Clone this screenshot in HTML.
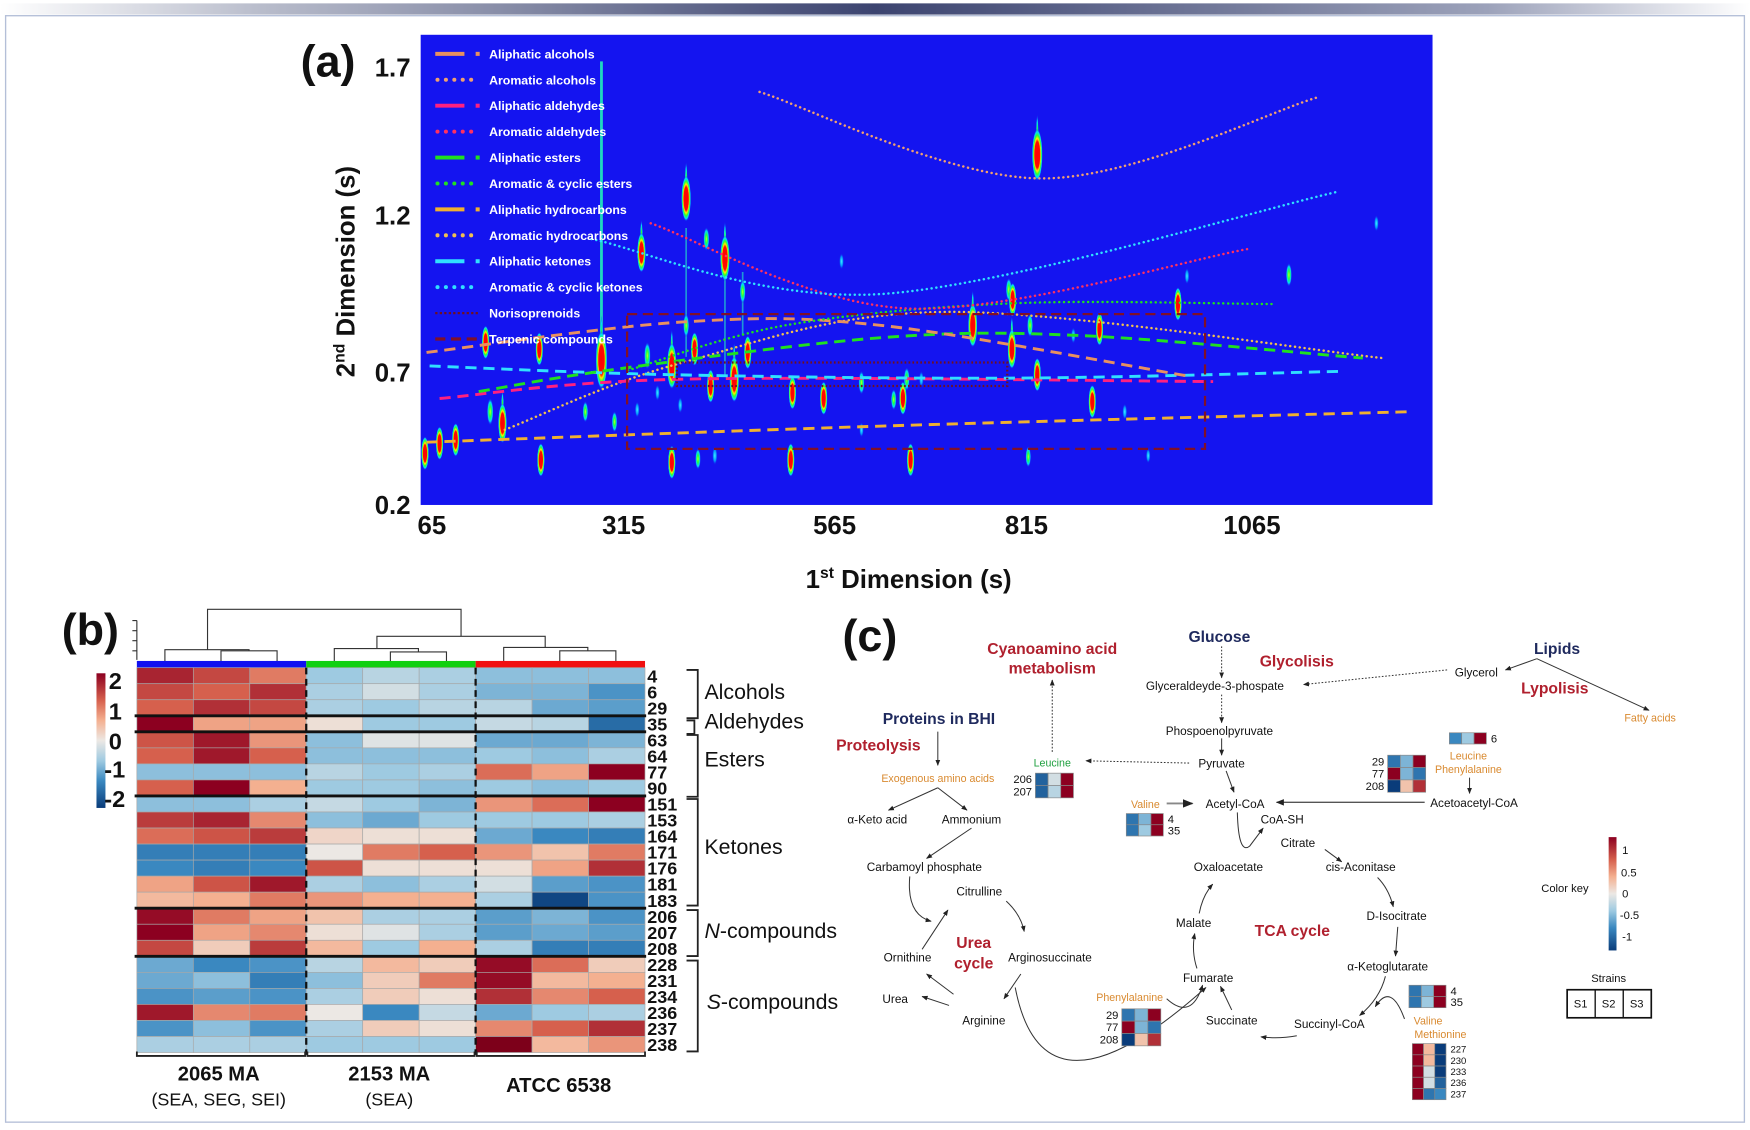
<!DOCTYPE html>
<html><head><meta charset="utf-8">
<style>
html,body{margin:0;padding:0;background:#fff;}
svg{display:block;font-family:"Liberation Sans",sans-serif;}
</style></head>
<body>
<svg id="fig" width="1750" height="1130" viewBox="0 0 1560 1007" preserveAspectRatio="none" xmlns="http://www.w3.org/2000/svg">
<defs>
  <linearGradient id="topband" x1="0" x2="1" y1="0" y2="0">
    <stop offset="0" stop-color="#ffffff"/><stop offset="0.15" stop-color="#b8bccb"/>
    <stop offset="0.5" stop-color="#3c4470"/><stop offset="0.85" stop-color="#9ca2ba"/><stop offset="1" stop-color="#ffffff"/>
  </linearGradient>
  <radialGradient id="pkR"><stop offset="0" stop-color="#ff0000"/><stop offset="0.5" stop-color="#ff0a00"/><stop offset="0.62" stop-color="#ffee00"/><stop offset="0.74" stop-color="#30ff30"/><stop offset="0.88" stop-color="#00e0ff"/><stop offset="1" stop-color="#1414f0" stop-opacity="0"/></radialGradient>
  <radialGradient id="pkG"><stop offset="0" stop-color="#c8ff20"/><stop offset="0.35" stop-color="#20ff40"/><stop offset="0.7" stop-color="#00d8ff"/><stop offset="1" stop-color="#1414f0" stop-opacity="0"/></radialGradient>
  <radialGradient id="pkC"><stop offset="0" stop-color="#40f0ff"/><stop offset="0.6" stop-color="#0090ff"/><stop offset="1" stop-color="#1414f0" stop-opacity="0"/></radialGradient>
  <linearGradient id="cbarB" x1="0" x2="0" y1="0" y2="1">
    <stop offset="0" stop-color="#8c0020"/><stop offset="0.2" stop-color="#d6604d"/><stop offset="0.35" stop-color="#f4b090"/><stop offset="0.5" stop-color="#ece8e4"/><stop offset="0.65" stop-color="#9ecae1"/><stop offset="0.8" stop-color="#3a88c0"/><stop offset="1" stop-color="#0a3c7a"/>
  </linearGradient>
  <clipPath id="plotclip"><rect x="375" y="31" width="902" height="419"/></clipPath>
  <marker id="arr" viewBox="0 0 10 10" refX="9" refY="5" markerWidth="6" markerHeight="6" orient="auto"><path d="M0,1 L10,5 L0,9 z" fill="#222"/></marker>
</defs>

<rect x="0" y="3" width="1560" height="10" fill="url(#topband)"/>
<rect x="5" y="14" width="1550" height="986" fill="none" stroke="#b4bfd8" stroke-width="1.2"/>

<g id="panelA">
  <text x="268" y="68" font-size="40" font-weight="bold" fill="#111">(a)</text>
  <rect x="375" y="31" width="902" height="419" fill="#1414f0"/>
  <g id="peaks" clip-path="url(#plotclip)"></g>
  <g id="curves" clip-path="url(#plotclip)"></g>
  <g id="legendA"></g>
  <g id="xticks"></g>
  <g id="yticks"></g>
  <text x="810" y="524" text-anchor="middle" font-size="23" font-weight="bold" fill="#111">1<tspan font-size="14" dy="-9">st</tspan><tspan dy="9"> Dimension (s)</tspan></text>
  <text transform="translate(316,242) rotate(-90)" text-anchor="middle" font-size="23" font-weight="bold" fill="#111">2<tspan font-size="14" dy="-9">nd</tspan><tspan dy="9"> Dimension (s)</tspan></text>
</g>

<g id="panelB">
  <text x="55" y="575" font-size="40" font-weight="bold" fill="#111">(b)</text>
  <g fill="none" stroke="#333" stroke-width="1">
    <path d="M185,579 V543 H411 V567"/>
    <path d="M147,589 V579 H222 V580"/><path d="M197,589 V580 H247 V589"/>
    <path d="M336,578 V567 H486 V577"/><path d="M298,589 V578 H373 V581"/><path d="M348,589 V581 H398 V589"/>
    <path d="M449,589 V577 H524 V580"/><path d="M499,589 V580 H549 V589"/>
    <path d="M122,553 V588 M118,553 H122 M118,562 H122 M118,571 H122 M118,580 H122"/>
  </g>
  <rect x="122" y="589" width="151" height="6" fill="#1010f0"/>
  <rect x="273" y="589" width="151" height="6" fill="#10d010"/>
  <rect x="424" y="589" width="151" height="6" fill="#f01010"/>
  <g id="hm"></g>
  <rect x="86" y="600" width="8" height="120" fill="url(#cbarB)"/>
  <g font-size="21" font-weight="bold" fill="#111">
    <text x="97" y="614">2</text><text x="97" y="641">1</text><text x="97" y="668">0</text><text x="93" y="693">-1</text><text x="93" y="719">-2</text>
  </g>
  <g fill="none" stroke="#222" stroke-width="1.6">
    <path d="M612,597 H622 V640 H612"/><path d="M612,642 H619 V654 H612"/><path d="M612,655 H622 V710 H612"/>
    <path d="M612,712 H622 V807 H612"/><path d="M612,811 H622 V852 H612"/><path d="M612,856 H622 V937 H612"/>
  </g>
  <g font-size="19" fill="#111">
    <text x="628" y="623">Alcohols</text><text x="628" y="649">Aldehydes</text><text x="628" y="683">Esters</text>
    <text x="628" y="761">Ketones</text><text x="628" y="836"><tspan font-style="italic">N</tspan>-compounds</text><text x="630" y="899"><tspan font-style="italic">S</tspan>-compounds</text>
  </g>
  <g fill="none" stroke="#222" stroke-width="1.6">
    <path d="M122,937 V941 H272 V937"/><path d="M274,937 V941 H423 V937"/><path d="M425,937 V941 H575 V937"/>
  </g>
  <g text-anchor="middle" fill="#111">
    <text x="195" y="963" font-size="18" font-weight="bold">2065 MA</text>
    <text x="195" y="985" font-size="16">(SEA, SEG, SEI)</text>
    <text x="347" y="963" font-size="18" font-weight="bold">2153 MA</text>
    <text x="347" y="985" font-size="16">(SEA)</text>
    <text x="498" y="973" font-size="18" font-weight="bold">ATCC 6538</text>
  </g>
</g>

<g id="panelC">
  <text x="751" y="580" font-size="40" font-weight="bold" fill="#111">(c)</text>
  <g font-weight="bold" font-size="14" text-anchor="middle">
    <text x="938" y="583" fill="#b0202e">Cyanoamino acid</text>
    <text x="938" y="600" fill="#b0202e">metabolism</text>
    <text x="1087" y="572" fill="#1f2a5e">Glucose</text>
    <text x="1156" y="594" fill="#b0202e">Glycolisis</text>
    <text x="1388" y="583" fill="#1f2a5e">Lipids</text>
    <text x="1386" y="618" fill="#b0202e">Lypolisis</text>
    <text x="837" y="645" fill="#1f2a5e">Proteins in BHI</text>
    <text x="783" y="669" fill="#b0202e">Proteolysis</text>
    <text x="1152" y="834" fill="#b0202e">TCA cycle</text>
    <text x="868" y="845" fill="#b0202e">Urea</text>
    <text x="868" y="863" fill="#b0202e">cycle</text>
  </g>
  <g font-size="10.5" fill="#111" text-anchor="middle">
    <text x="1316" y="603">Glycerol</text>
    <text x="1083" y="615">Glyceraldeyde-3-phospate</text>
    <text x="1087" y="655">Phospoenolpyruvate</text>
    <text x="1089" y="684">Pyruvate</text>
    <text x="1101" y="720">Acetyl-CoA</text>
    <text x="1314" y="719">Acetoacetyl-CoA</text>
    <text x="782" y="734">α-Keto acid</text>
    <text x="866" y="734">Ammonium</text>
    <text x="1143" y="734">CoA-SH</text>
    <text x="1157" y="755">Citrate</text>
    <text x="824" y="776">Carbamoyl phosphate</text>
    <text x="1095" y="776">Oxaloacetate</text>
    <text x="1213" y="776">cis-Aconitase</text>
    <text x="873" y="798">Citrulline</text>
    <text x="1064" y="826">Malate</text>
    <text x="1245" y="820">D-Isocitrate</text>
    <text x="809" y="857">Ornithine</text>
    <text x="936" y="857">Arginosuccinate</text>
    <text x="1237" y="865">α-Ketoglutarate</text>
    <text x="1077" y="875">Fumarate</text>
    <text x="798" y="894">Urea</text>
    <text x="877" y="913">Arginine</text>
    <text x="1098" y="913">Succinate</text>
    <text x="1185" y="916">Succinyl-CoA</text>
  </g>
  <g font-size="9.5" text-anchor="middle">
    <text x="1471" y="643" fill="#d98a30">Fatty acids</text>
    <text x="836" y="697" fill="#d98a30">Exogenous amino acids</text>
    <text x="938" y="683" fill="#20a040">Leucine</text>
    <text x="1309" y="677" fill="#d98a30">Leucine</text>
    <text x="1309" y="689" fill="#d98a30">Phenylalanine</text>
    <text x="1021" y="720" fill="#d98a30">Valine</text>
    <text x="1007" y="892" fill="#d98a30">Phenylalanine</text>
    <text x="1273" y="913" fill="#d98a30">Valine</text>
    <text x="1284" y="925" fill="#d98a30">Methionine</text>
  </g>
  <g fill="none" stroke="#333" stroke-width="0.9" marker-end="url(#arr)">
    <path d="M1089,576 V604" stroke-dasharray="1.5 1.5"/>
    <path d="M1290,597 L1162,610" stroke-dasharray="1.5 1.5"/>
    <path d="M1370,587 L1342,597"/>
    <path d="M1370,587 L1470,633"/>
    <path d="M1089,619 V644" stroke-dasharray="1.5 1.5"/>
    <path d="M1089,658 V673"/>
    <path d="M1060,680 L968,678" stroke-dasharray="1.5 1.5"/>
    <path d="M938,670 V606" stroke-dasharray="1.5 1.5"/>
    <path d="M1093,687 L1100,706"/>
    <path d="M1040,716 H1063" stroke="#888" stroke-width="1.6"/>
    <path d="M1270,715 H1138" stroke="#555" stroke-width="1.2"/>
    <path d="M1310,693 V707"/>
    <path d="M836,652 V682"/>
    <path d="M836,702 L792,722"/><path d="M836,702 L862,722"/>
    <path d="M866,738 L826,765"/>
    <path d="M1103,724 Q1104,762 1114,754 L1126,738"/>
    <path d="M1181,757 L1196,768"/>
    <path d="M1228,782 Q1238,792 1242,808"/>
    <path d="M1246,826 L1244,852"/>
    <path d="M1235,870 Q1230,890 1212,905"/>
    <path d="M1252,908 Q1240,875 1226,897"/>
    <path d="M1156,923 Q1140,926 1124,924"/>
    <path d="M1098,900 L1088,879"/>
    <path d="M1067,863 Q1062,848 1065,832"/>
    <path d="M1069,814 Q1072,798 1081,788"/>
    <path d="M1040,890 Q1062,910 1072,878"/>
    <path d="M811,781 Q808,815 830,821"/>
    <path d="M822,846 L845,811"/>
    <path d="M897,803 Q910,815 913,830"/>
    <path d="M910,868 L895,890"/>
    <path d="M846,896 L822,888"/>
    <path d="M850,886 L826,868"/>
    <path d="M905,880 Q930,1010 1075,880"/>
  </g>
  <g id="minis"></g>
  <text x="1395" y="795" font-size="10" text-anchor="middle" fill="#111">Color key</text>
  <rect x="1434" y="746" width="7" height="101" fill="url(#cbarB)"/>
  <g font-size="10" fill="#111">
    <text x="1446" y="761">1</text><text x="1445" y="781">0.5</text><text x="1446" y="800">0</text><text x="1444" y="819">-0.5</text><text x="1446" y="838">-1</text>
  </g>
  <text x="1434" y="875" font-size="10" text-anchor="middle" fill="#111">Strains</text>
  <g>
    <rect x="1397" y="882" width="75" height="25" fill="#fff" stroke="#111" stroke-width="1.5"/>
    <line x1="1422" y1="882" x2="1422" y2="907" stroke="#111" stroke-width="1.2"/>
    <line x1="1447" y1="882" x2="1447" y2="907" stroke="#111" stroke-width="1.2"/>
    <g font-size="10" text-anchor="middle" fill="#111"><text x="1409" y="898">S1</text><text x="1434" y="898">S2</text><text x="1459" y="898">S3</text></g>
  </g>
</g>
</svg>

<script>
// ---------- Panel A data ----------
const xTickLabels=[65,315,565,815,1065];
const yTickLabels=[0.2,0.7,1.2,1.7];
const peakRT1=[827,286,389,336,413,435,456,574,1106,1203,993,983,792,797,745,796,819,896,867,135,205,372,389,399,343,462,418,446,827,659,654,678,515,552,600,642,888,924,355,382,331,265,303,141,157,96,75,56,207,372,403,423,513,664,817,950,600];
const peakRT2=[1.405,0.74,1.257,1.082,1.125,1.064,0.957,1.054,1.011,1.175,1.007,0.918,0.964,0.932,0.850,0.775,0.850,0.839,0.818,0.796,0.775,0.721,0.850,0.775,0.754,0.764,0.649,0.675,0.692,0.675,0.603,0.675,0.624,0.603,0.662,0.598,0.590,0.552,0.624,0.577,0.560,0.552,0.514,0.552,0.509,0.446,0.433,0.395,0.370,0.361,0.374,0.386,0.370,0.370,0.382,0.386,0.484];
const peakResp=[3.5,4,3,2.5,1.2,3,1.2,0.6,1.2,0.6,0.6,2,1.2,2,2.8,2.5,1.2,2,0.6,2,2,3,1.2,2,1.5,2,2,3,2,1.2,2,0.6,2,2,1.2,1,2,0.6,0.6,0.6,0.6,1,1,1.5,2.5,2,2,2,2,2,1,0.8,2,2,1,0.5,0.5];
const streakRT1=[286,389,435,456];
const streakTop=[1.72,1.16,1.12,1.02];
const streakBottom=[0.75,0.75,0.69,0.82];
const legendNames=["Aliphatic alcohols","Aromatic alcohols","Aliphatic aldehydes","Aromatic aldehydes","Aliphatic esters","Aromatic & cyclic esters","Aliphatic hydrocarbons","Aromatic hydrocarbons","Aliphatic ketones","Aromatic & cyclic ketones","Norisoprenoids","Terpenic compounds"];
const curveAliphAlcX=[58,385,626,994], curveAliphAlcY=[0.764,0.861,0.85,0.687];
const curveAromAlcX=[476,830,1137], curveAromAlcY=[1.617,1.325,1.598];
const curveAliphAldX=[75,385,1022], curveAliphAldY=[0.602,0.675,0.666];
const curveAromAldX=[347,660,1060], curveAromAldY=[1.175,0.904,1.093];
const curveAliphEstX=[126,306,626,873,1188], curveAliphEstY=[0.628,0.711,0.811,0.818,0.746];
const curveAromEstX=[320,506,793,1087], curveAromEstY=[0.707,0.85,0.92,0.918];
const curveAliphHcX=[58,650,1240], curveAliphHcY=[0.437,0.50,0.552];
const curveAromHcX=[160,385,713,1210], curveAromHcY=[0.484,0.732,0.893,0.746];
const curveAliphKetX=[62,370,797,1167], curveAliphKetY=[0.721,0.692,0.679,0.704];
const curveAromKetX=[273,626,1160], curveAromKetY=[1.125,0.95,1.28];
const boxNorisoX=[378,790], boxNorisoY=[0.732,0.649];
const boxTerpX=[319,1013], boxTerpY=[0.886,0.412];

const NS="http://www.w3.org/2000/svg";
function mk(tag,attrs,parent){const e=document.createElementNS(NS,tag);for(const k in attrs)e.setAttribute(k,attrs[k]);if(parent)parent.appendChild(e);return e;}
function poly(dom,rng){return v=>{let i=0;while(i<dom.length-2&&v>dom[i+1])i++;return rng[i]+(v-dom[i])*(rng[i+1]-rng[i])/(dom[i+1]-dom[i]);};}
const xScale=poly([65,315,565,815,1065],[385,556,744,915,1116]);
const yScale=poly([0.2,0.7,1.2,1.7],[450,332,192,60]);

const gP=document.getElementById('peaks');
streakRT1.forEach((x,i)=>{
  const l=mk('line',{x1:xScale(x),x2:xScale(x),y1:yScale(streakTop[i]),y2:yScale(streakBottom[i]),stroke:i==0?'#20d8c0':'#20b8d0','stroke-width':i==0?2.5:1.5,'stroke-opacity':i==0?1:0.8},gP);
  
  
});
peakRT1.forEach((x,i)=>{
  const r=peakResp[i];
  const fill=r>=1.8?'url(#pkR)':(r>=0.9?'url(#pkG)':'url(#pkC)');
  const cx=xScale(x),cy=yScale(peakRT2[i]);
  if(r>=2.5){
    const t=mk('ellipse',{cx:cx,cy:cy-6-3*r,rx:1.2,ry:6+4*r,fill:'url(#pkG)'},gP);
    
    
  }
  const e=mk('ellipse',{cx:cx,cy:cy,rx:1.6+0.9*r,ry:4+5.5*r,fill:fill},gP);
  
  
});

function smooth(pts){let d=`M${pts[0][0]},${pts[0][1]}`;for(let i=0;i<pts.length-1;i++){const p0=pts[i-1]||pts[i],p1=pts[i],p2=pts[i+1],p3=pts[i+2]||p2;const c1=[p1[0]+(p2[0]-p0[0])/6,p1[1]+(p2[1]-p0[1])/6];const c2=[p2[0]-(p3[0]-p1[0])/6,p2[1]-(p3[1]-p1[1])/6];d+=` C${c1[0]},${c1[1]} ${c2[0]},${c2[1]} ${p2[0]},${p2[1]}`;}return d;}
const gC=document.getElementById('curves');
const DASH={dash:'10 6',dot:'0.1 4.2'};
function curve(xs,ys,color,kind,name){
  const pts=xs.map((x,i)=>[xScale(x),yScale(ys[i])]);
  const p=mk('path',{d:smooth(pts),fill:'none',stroke:color,'stroke-width':kind=='dash'?2.6:2.2,'stroke-dasharray':DASH[kind],'stroke-linecap':kind=='dot'?'round':'butt'},gC);
  
  
}
curve(curveAliphHcX,curveAliphHcY,'#f0b030','dash','curve-aliphatic-hydrocarbons');
curve(curveAromHcX,curveAromHcY,'#f0c050','dot','curve-aromatic-hydrocarbons');
curve(curveAliphAldX,curveAliphAldY,'#ff2080','dash','curve-aliphatic-aldehydes');
curve(curveAliphKetX,curveAliphKetY,'#30e0ff','dash','curve-aliphatic-ketones');
curve(curveAliphEstX,curveAliphEstY,'#20e020','dash','curve-aliphatic-esters');
curve(curveAliphAlcX,curveAliphAlcY,'#e89060','dash','curve-aliphatic-alcohols');
curve(curveAromEstX,curveAromEstY,'#20e020','dot','curve-aromatic-esters');
curve(curveAromAldX,curveAromAldY,'#ff3060','dot','curve-aromatic-aldehydes');
curve(curveAromKetX,curveAromKetY,'#30e0ff','dot','curve-aromatic-ketones');
curve(curveAromAlcX,curveAromAlcY,'#f0a070','dot','curve-aromatic-alcohols');
function box(xs,ys,color,kind,name){
  const x1=xScale(xs[0]),x2=xScale(xs[1]),y1=yScale(ys[0]),y2=yScale(ys[1]);
  const r=mk('rect',{x:x1,y:y1,width:x2-x1,height:y2-y1,fill:'none',stroke:color,'stroke-width':2,'stroke-dasharray':kind=='dash'?'9 5':'1.5 2'},gC);
  
  
}
box(boxNorisoX,boxNorisoY,'#701020','dot','box-norisoprenoids');
box(boxTerpX,boxTerpY,'#801028','dash','box-terpenic-compounds');

const legendColors=['#e89060','#f0a070','#ff2080','#ff3060','#20e020','#20e020','#f0b030','#f0c050','#30e0ff','#30e0ff','#701020','#801028'];
const legendKinds=['dash','dot','dash','dot','dash','dot','dash','dot','dash','dot','ndot','ndash'];
const gL=document.getElementById('legendA');
legendNames.forEach((n,i)=>{
  const y=48+i*23.1;
  const g=mk('g',{},gL);
  
  
  const k=legendKinds[i],c=legendColors[i];
  if(k=='dash'){mk('line',{x1:388,x2:414,y1:y,y2:y,stroke:c,'stroke-width':3.5},g);mk('rect',{x:424,y:y-1.8,width:3.6,height:3.6,fill:c},g);}
  else if(k=='dot'){for(let j=0;j<5;j++)mk('circle',{cx:390+j*7.5,cy:y,r:1.8,fill:c},g);}
  else if(k=='ndot'){mk('line',{x1:388,x2:426,y1:y,y2:y,stroke:c,'stroke-width':2,'stroke-dasharray':'2 2'},g);}
  else {mk('line',{x1:388,x2:426,y1:y,y2:y,stroke:c,'stroke-width':3,'stroke-dasharray':'9 5'},g);}
  const t=mk('text',{x:436,y:y+4,'font-size':11,'font-weight':'bold',fill:'#fff'},g);t.textContent=n;
});

const gX=document.getElementById('xticks');
xTickLabels.forEach(v=>{const t=mk('text',{x:xScale(v),y:476,'text-anchor':'middle','font-size':23,'font-weight':'bold',fill:'#111'},gX);t.textContent=v;
  
  });
const gY=document.getElementById('yticks');
yTickLabels.forEach(v=>{const t=mk('text',{x:366,y:yScale(v)+8,'text-anchor':'end','font-size':23,'font-weight':'bold',fill:'#111'},gY);t.textContent=v.toFixed(1);
  
  });

// ---------- Panel B heatmap ----------
const hmRows=['4','6','29','35','63','64','77','90','151','153','164','171','176','181','183','206','207','208','228','231','234','236','237','238'];
const hmCols=['2065-1','2065-2','2065-3','2153-1','2153-2','2153-3','ATCC-1','ATCC-2','ATCC-3'];
const hmVals=[
[1.7,1.4,1.0,-0.6,-0.4,-0.5,-0.7,-0.7,-0.7],
[1.4,1.2,1.6,-0.5,-0.2,-0.5,-0.8,-0.8,-1.1],
[1.2,1.6,1.4,-0.5,-0.6,-0.4,-0.4,-0.9,-1.0],
[2.0,0.7,0.7,0.1,-0.6,-0.6,-0.3,-0.4,-1.5],
[1.3,1.8,0.8,-0.7,-0.1,-0.1,-0.9,-0.9,-0.8],
[1.2,1.8,1.2,-0.7,-0.7,-0.7,-0.6,-0.7,-0.5],
[-0.7,-0.7,-0.7,-0.4,-0.6,-0.5,1.1,0.7,2.0],
[1.2,2.0,0.6,-0.6,-0.6,-0.7,-0.6,-0.7,-0.6],
[-0.7,-0.7,-0.5,-0.3,-0.6,-0.8,0.8,1.1,2.0],
[1.5,1.7,0.9,-0.7,-0.9,-0.6,-0.6,-0.6,-0.5],
[1.1,1.3,1.5,0.2,0.1,0.1,-0.9,-1.2,-1.3],
[-1.3,-1.3,-1.3,0.0,1.0,1.2,0.8,0.4,1.0],
[-1.2,-1.3,-1.2,1.3,0.1,0.1,0.1,0.7,1.6],
[0.7,1.3,1.8,-0.5,-0.7,-0.5,-0.2,-1.0,-1.1],
[0.5,0.6,1.0,0.8,0.6,0.6,-0.5,-1.9,-1.1],
[1.9,1.0,0.7,0.4,-0.5,-0.5,-1.0,-0.8,-1.1],
[2.0,0.7,0.9,0.1,-0.1,-0.5,-1.0,-0.9,-1.0],
[1.4,0.3,1.5,0.5,-0.6,0.6,-0.5,-1.3,-1.3],
[-0.9,-1.2,-1.1,-0.4,0.5,0.3,1.9,1.1,0.3],
[-0.9,-0.7,-1.3,-0.7,0.3,1.0,1.9,0.5,0.6],
[-1.1,-1.0,-1.1,-0.5,0.3,0.1,1.6,0.9,1.2],
[1.8,0.9,1.0,0.0,-1.2,-0.3,-0.9,-0.6,-0.5],
[-1.1,-0.7,-1.1,-0.5,0.3,0.1,0.9,1.2,1.6],
[-0.5,-0.5,-0.5,-0.6,-0.6,-0.6,2.2,0.5,0.8]];
const groupBreaks=[3,4,8,15,18];

const cStops=[[-2,[10,60,122]],[-1.2,[58,136,192]],[-0.6,[158,202,225]],[0,[236,232,228]],[0.6,[244,176,144]],[1.2,[214,96,77]],[2,[140,0,32]],[2.4,[110,0,20]]];
function col(v){v=Math.max(-2,Math.min(2.4,v));for(let i=0;i<cStops.length-1;i++){const a=cStops[i],b=cStops[i+1];if(v<=b[0]){const t=(v-a[0])/(b[0]-a[0]);return 'rgb('+a[1].map((c,j)=>Math.round(c+(b[1][j]-c)*t)).join(',')+')';}}return 'rgb(110,0,20)';}
const hmX=c=>122+c*50.33, hmY=r=>595+r*14.29;
const gH=document.getElementById('hm');
hmVals.forEach((row,r)=>{
  row.forEach((v,c)=>{
    const e=mk('rect',{x:hmX(c),y:hmY(r),width:50.33,height:14.29,fill:col(v),stroke:'#a8a8a8','stroke-width':0.6},gH);
    
    
  });
  const t=mk('text',{x:577,y:hmY(r)+13,'font-size':16,'font-weight':'bold',fill:'#111'},gH);t.textContent=hmRows[r];
  
  
});
[3,6].forEach(c=>{const l=mk('line',{x1:hmX(c),x2:hmX(c),y1:595,y2:940,stroke:'#111','stroke-width':2,'stroke-dasharray':'6 4'},gH);
  
  });
groupBreaks.forEach(r=>{const l=mk('line',{x1:120,x2:576,y1:hmY(r),y2:hmY(r),stroke:'#111','stroke-width':2.6},gH);
  
  });

// ---------- Panel C mini heatmaps ----------
const mini6=[[-0.6,-0.3,1]];
const mini206=[[-0.8,-0.1,1],[-0.8,-0.2,1]];
const miniLeuPhe=[[-0.7,-0.4,1],[1,-0.4,-0.7],[-1,0.2,0.8]];
const miniVal=[[-0.7,-0.4,1],[-0.7,-0.3,1]];
const miniPhe=[[-0.7,-0.4,1],[1,-0.4,-0.7],[-1,0.2,0.8]];
const miniValB=[[-0.7,-0.4,1],[-0.7,-0.3,1]];
const miniMet=[[1,0.25,-1],[1,0.25,-1],[1,-0.1,-1],[1,-0.1,-0.8],[1,-0.7,-0.6]];
const gM=document.getElementById('minis');
function mini(vals,labels,x,y,cw,ch,side,fs){
  const g=mk('g',{},gM);
  
  
  vals.forEach((row,r)=>{row.forEach((v,c)=>{mk('rect',{x:x+c*cw,y:y+r*ch,width:cw,height:ch,fill:col(v*2),stroke:'#888','stroke-width':0.6},g);});
    const t=mk('text',{x:side=='left'?x-3:x+3*cw+4,y:y+r*ch+ch*0.5+fs*0.35,'text-anchor':side=='left'?'end':'start','font-size':fs,fill:'#111'},g);t.textContent=labels[r];});
}
mini(mini6,['6'],1292,653,11,10,'right',10);
mini(mini206,['206','207'],923,689,11.3,11,'left',10);
mini(miniLeuPhe,['29','77','208'],1237,673,11.3,11,'left',10);
mini(miniVal,['4','35'],1004,725,11,10,'right',10);
mini(miniPhe,['29','77','208'],1000,899,11.6,11,'left',10);
mini(miniValB,['4','35'],1256,878,11,10,'right',10);
mini(miniMet,['227','230','233','236','237'],1259,930,10,10,'right',8.5);
</script>
</body></html>
